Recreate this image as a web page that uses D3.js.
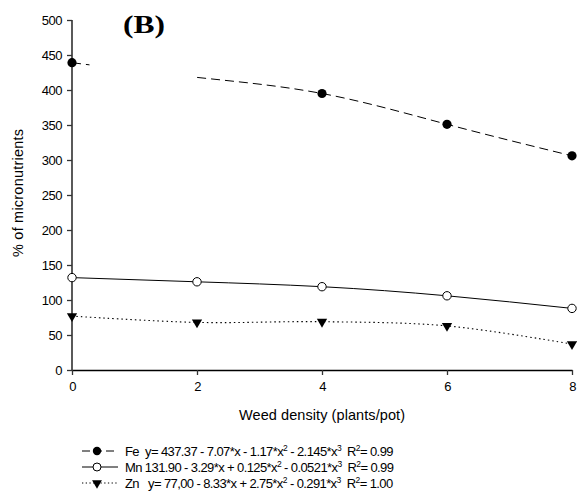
<!DOCTYPE html>
<html>
<head>
<meta charset="utf-8">
<script src="https://cdn.jsdelivr.net/npm/d3@7"></script>
<style>
  body { margin: 0; background: #fff; }
  svg text { font-family: "Liberation Sans", Arial, sans-serif; }
</style>
</head>
<body>
<div id="chart"></div>
<script>
// data
var weedDensity = [0, 2, 4, 6, 8];
var feValues = [439, 418, 395, 351, 306];
var feMarkers = [true, false, true, true, true];
var feLineGap = [0.28, 2];   // the Fe curve is broken between these x values
var mnValues = [132, 126, 119, 106, 88];
var znValues = [77, 68, 69, 63, 37];
var yTicks = [0, 50, 100, 150, 200, 250, 300, 350, 400, 450, 500];
var xTicks = [0, 2, 4, 6, 8];
var legendRows = [
  { key: "Fe", parts: ["Fe  y= 437.37 - 7.07*x - 1.17*x", "2", " - 2.145*x", "3", "  R", "2", "= 0.99"] },
  { key: "Mn", parts: ["Mn 131.90 - 3.29*x + 0.125*x", "2", " - 0.0521*x", "3", "  R", "2", "= 0.99"] },
  { key: "Zn", parts: ["Zn   y= 77,00 - 8.33*x + 2.75*x", "2", " - 0.291*x", "3", "  R", "2", "= 1.00"] }
];

var margin = {top: 20, right: 5, bottom: 130, left: 72},
    width = 577 - margin.left - margin.right,
    height = 500 - margin.top - margin.bottom;

var x = d3.scaleLinear().domain([0, 8]).range([0, width]);
var y = d3.scaleLinear().domain([0, 500]).range([height, 0]);

var root = d3.select("#chart").append("svg")
    .attr("width", 577)
    .attr("height", 500);

var svg = root.append("g")
    .attr("transform", "translate(" + margin.left + "," + margin.top + ")");

// clip out the gap in the Fe curve
var defs = root.append("defs");
var clip = defs.append("clipPath").attr("id", "feClip");
clip.append("rect")
    .attr("x", -10).attr("y", -20)
    .attr("width", x(feLineGap[0]) + 10).attr("height", height + 40);
clip.append("rect")
    .attr("x", x(feLineGap[1])).attr("y", -20)
    .attr("width", width - x(feLineGap[1]) + 20).attr("height", height + 40);

// axes
var yAxis = svg.append("g")
    .call(d3.axisLeft(y).tickValues(yTicks).tickSize(5).tickPadding(5));
var xAxis = svg.append("g")
    .attr("transform", "translate(0," + height + ")")
    .call(d3.axisBottom(x).tickValues(xTicks).tickSize(5).tickPadding(7).tickSizeOuter(0));

[yAxis, xAxis].forEach(function(a) {
  a.select(".domain").attr("stroke", "#000").attr("stroke-width", 1.3);
  a.selectAll(".tick line").attr("stroke", "#333").attr("stroke-width", 1.3);
  a.selectAll(".tick text")
      .attr("fill", "#000")
      .style("font-size", "13px")
      .style("letter-spacing", "-0.5px");
});
yAxis.select(".domain").attr("d", "M0," + y(500) + "V" + y(0));

// lines
function rows(vals) {
  return weedDensity.map(function(d, i) { return {x: d, y: vals[i]}; });
}
function lineWith(curve) {
  return d3.line()
      .x(function(d) { return x(d.x); })
      .y(function(d) { return y(d.y); })
      .curve(curve);
}

svg.append("path")
    .datum(rows(feValues))
    .attr("clip-path", "url(#feClip)")
    .attr("fill", "none").attr("stroke", "#000").attr("stroke-width", 1)
    .attr("stroke-dasharray", "9,5")
    .attr("d", lineWith(d3.curveNatural));

svg.append("path")
    .datum(rows(mnValues))
    .attr("fill", "none").attr("stroke", "#000").attr("stroke-width", 1)
    .attr("d", lineWith(d3.curveNatural));

svg.append("path")
    .datum(rows(znValues))
    .attr("fill", "none").attr("stroke", "#000").attr("stroke-width", 1.1)
    .attr("stroke-dasharray", "1.5,3")
    .attr("d", lineWith(d3.curveCatmullRom));

// markers
var tri = d3.symbol().type(d3.symbolTriangle).size(46);

svg.selectAll(".fe")
    .data(rows(feValues).filter(function(d, i) { return feMarkers[i]; }))
  .enter().append("circle")
    .attr("class", "fe")
    .attr("cx", function(d) { return x(d.x); })
    .attr("cy", function(d) { return y(d.y); })
    .attr("r", 4.6)
    .attr("fill", "#000");

svg.selectAll(".mn")
    .data(rows(mnValues))
  .enter().append("circle")
    .attr("class", "mn")
    .attr("cx", function(d) { return x(d.x); })
    .attr("cy", function(d) { return y(d.y); })
    .attr("r", 4.2)
    .attr("fill", "#fff").attr("stroke", "#000").attr("stroke-width", 1);

svg.selectAll(".zn")
    .data(rows(znValues))
  .enter().append("path")
    .attr("class", "zn")
    .attr("d", tri)
    .attr("transform", function(d) { return "translate(" + x(d.x) + "," + y(d.y) + ") rotate(180)"; })
    .attr("fill", "#000");

// axis labels
svg.append("text")
    .attr("text-anchor", "middle")
    .attr("x", width / 2)
    .attr("y", height + 50)
    .attr("textLength", 166)
    .style("font-size", "14.5px")
    .text("Weed density (plants/pot)");

svg.append("text")
    .attr("text-anchor", "middle")
    .attr("transform", "rotate(-90)")
    .attr("x", -(y(350) + y(150)) / 2 + 2)
    .attr("y", -margin.left + 23)
    .attr("textLength", 128)
    .style("font-size", "14.5px")
    .text("% of micronutrients");

// panel label
root.append("text")
    .attr("x", 123)
    .attr("y", 33)
    .attr("textLength", 42)
    .attr("lengthAdjust", "spacingAndGlyphs")
    .style("font-family", "'Liberation Serif', 'Times New Roman', serif")
    .style("font-weight", "bold")
    .style("font-size", "26px")
    .text("(B)");

// legend
var legend = root.append("g").attr("transform", "translate(82,451)");
legendRows.forEach(function(r, i) {
  var g = legend.append("g").attr("transform", "translate(0," + i * 16 + ")");
  var ln = g.append("line").attr("x1", 0).attr("x2", 36).attr("y1", 0).attr("y2", 0)
      .attr("stroke", "#000").attr("stroke-width", 1);
  if (r.key === "Fe") {
    ln.attr("stroke-dasharray", "8,4");
    g.append("circle").attr("cx", 15).attr("cy", 0).attr("r", 4.2).attr("fill", "#000");
  } else if (r.key === "Mn") {
    g.append("circle").attr("cx", 15).attr("cy", 0).attr("r", 4)
        .attr("fill", "#fff").attr("stroke", "#000");
  } else {
    ln.attr("stroke-dasharray", "1.3,2.4");
    g.append("path").attr("d", d3.symbol().type(d3.symbolTriangle).size(42))
        .attr("transform", "translate(15,0) rotate(180)").attr("fill", "#000");
  }
  var t = g.append("text")
      .attr("x", 43).attr("y", 5)
      .style("font-size", "13px")
      .style("letter-spacing", "-0.6px");
  r.parts.forEach(function(p, j) {
    var sup = j % 2 === 1;
    t.append("tspan")
        .attr("dy", sup ? -5 : (j > 0 ? 5 : 0))
        .style("font-size", sup ? "8.5px" : "13px")
        .attr("xml:space", "preserve")
        .text(p);
  });
});
</script>
</body>
</html>
